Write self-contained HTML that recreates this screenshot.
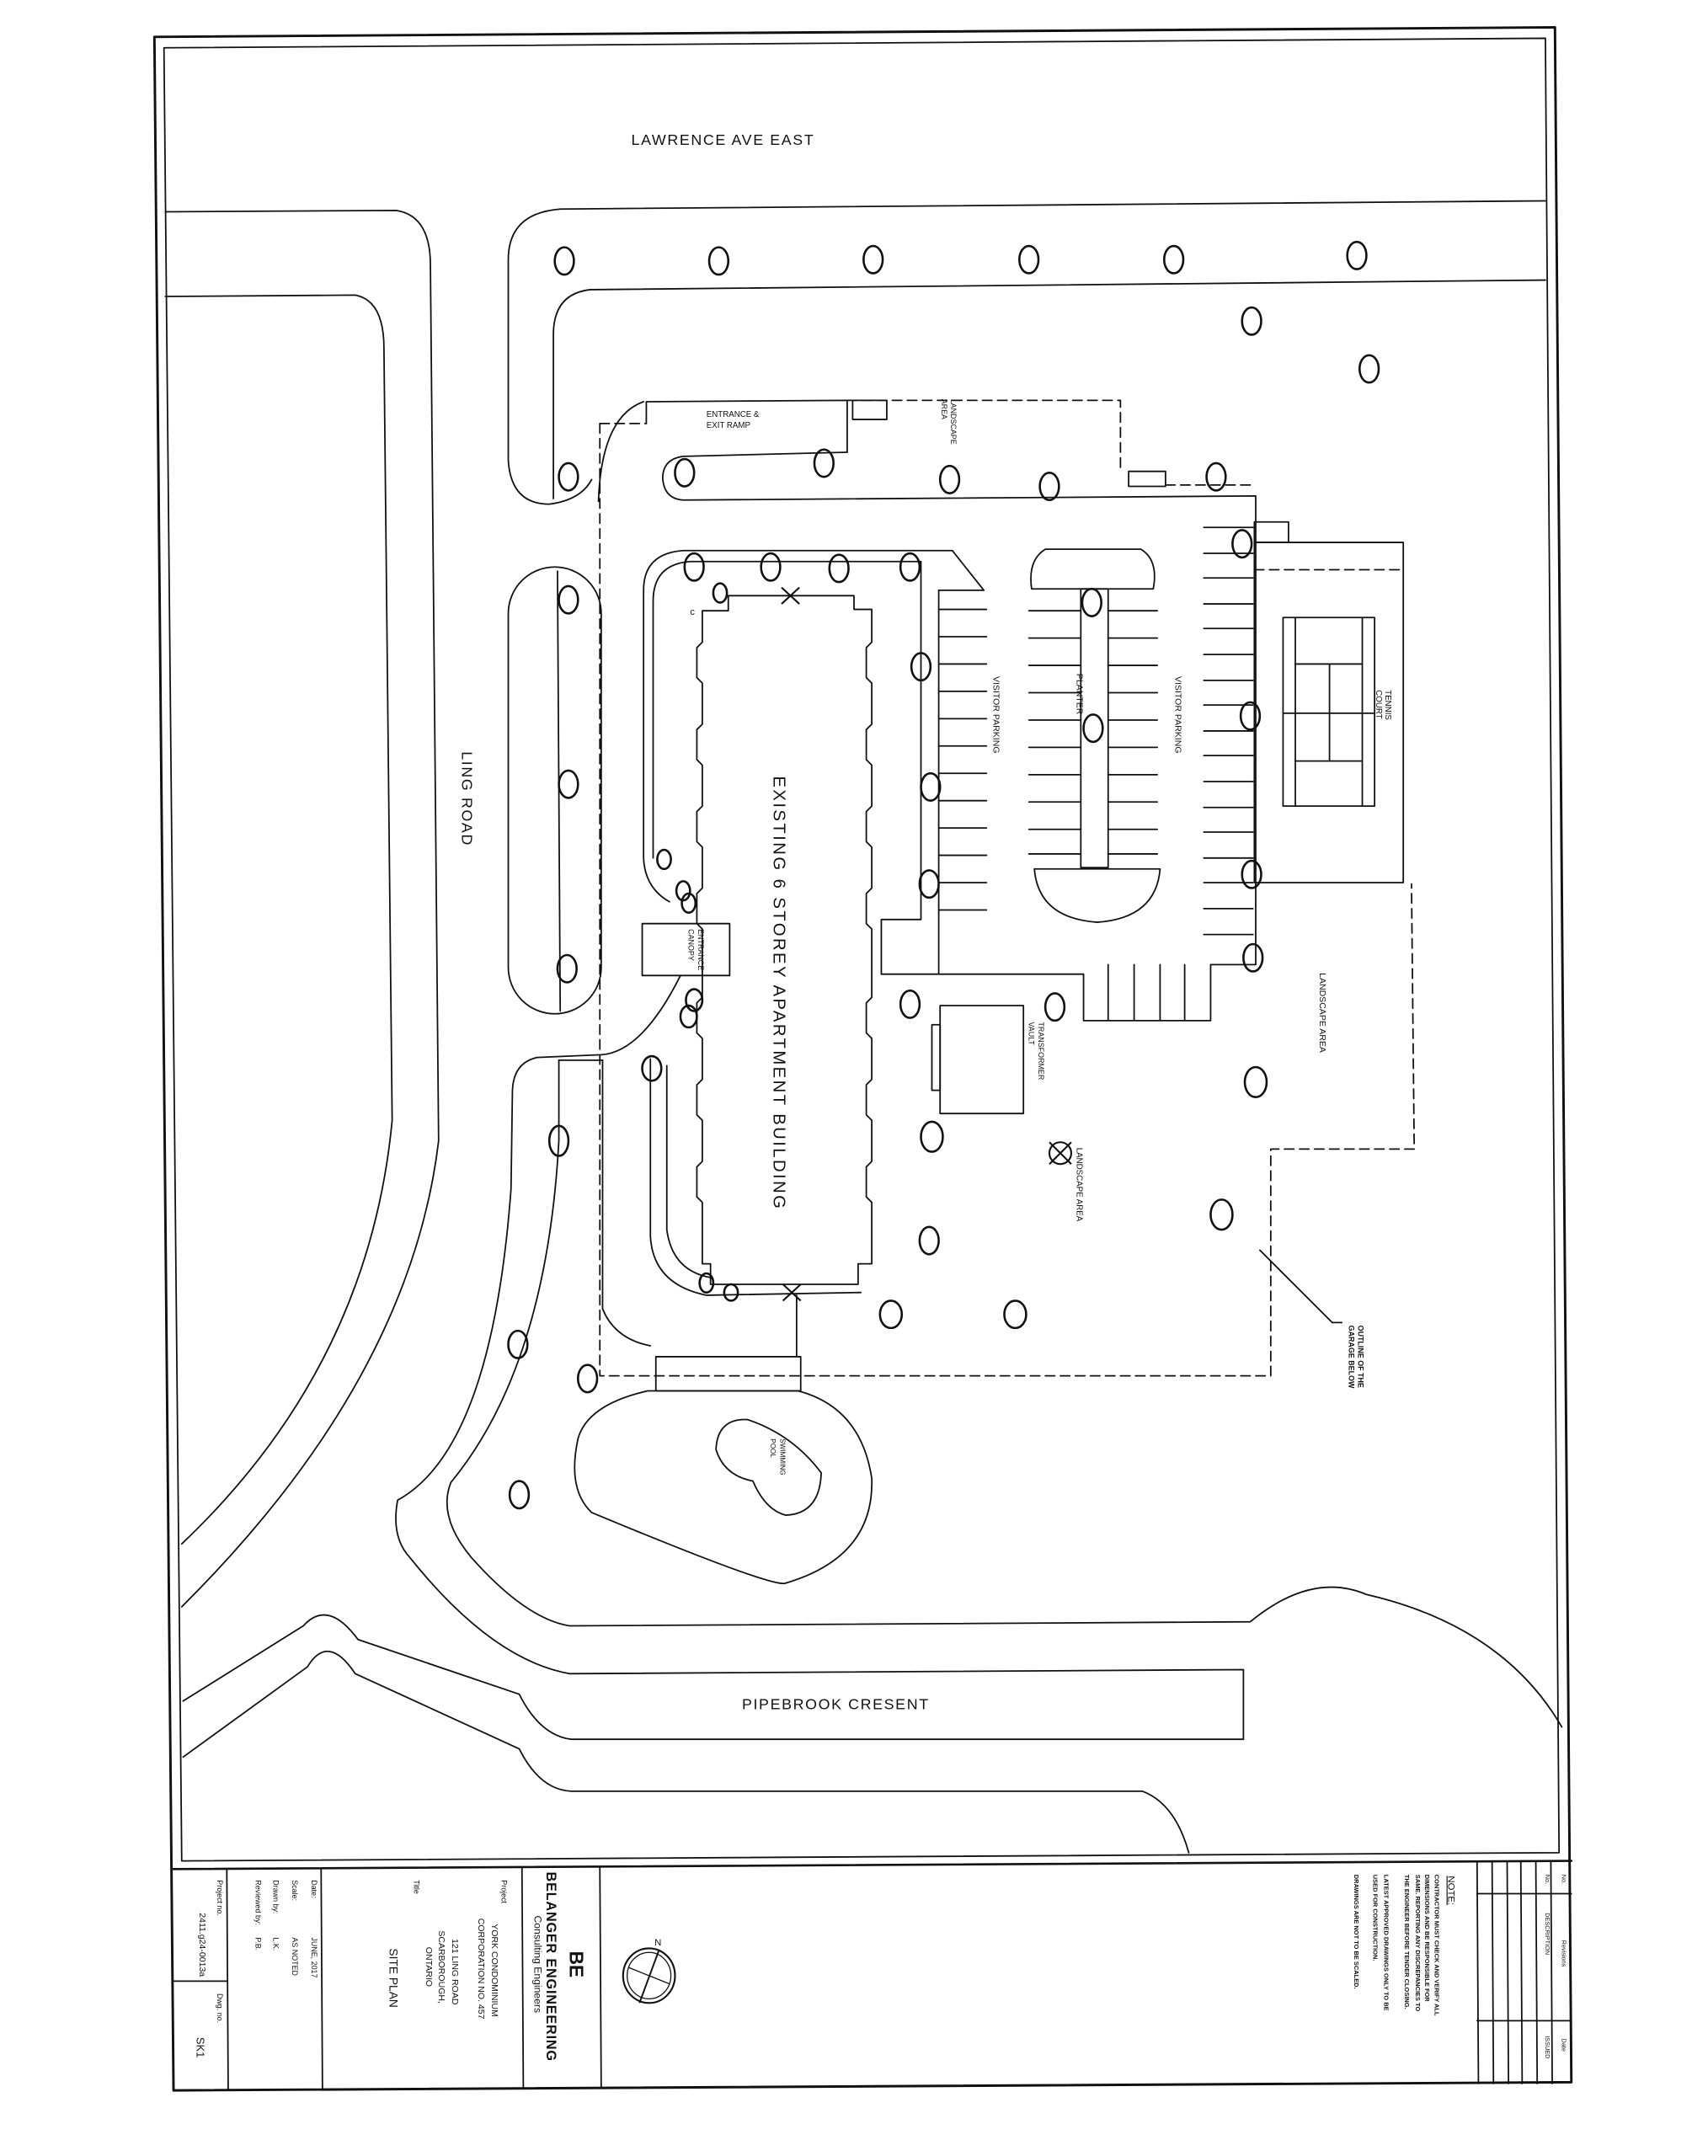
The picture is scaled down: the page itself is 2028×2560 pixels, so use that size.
<!DOCTYPE html>
<html><head><meta charset="utf-8"><style>
html,body{margin:0;padding:0;background:#fff;}
svg{display:block;}
text{font-family:"Liberation Sans",sans-serif;fill:#111;}
</style></head><body>
<svg width="2028" height="2560" viewBox="0 0 1250 1578" preserveAspectRatio="none" xmlns="http://www.w3.org/2000/svg">
<rect width="1250" height="1578" fill="#fff"/>
<g fill="none" stroke="#111" stroke-width="1.1" stroke-linejoin="round" stroke-linecap="round">
<!-- frames -->
<polygon points="113,27 1138,20 1150,1524 127,1530" stroke-width="1.8"/>
<polyline points="120,35 1131,28 1141,1356 133,1362 120,35"/>
<line x1="127" y1="1368" x2="1150" y2="1362" stroke-width="1.6"/>
<line x1="166" y1="1368" x2="167" y2="1529"/>
<line x1="235" y1="1368" x2="236" y2="1529"/>
<line x1="382" y1="1367" x2="383" y2="1528"/>
<line x1="439" y1="1367" x2="440" y2="1528"/>
<line x1="127" y1="1450" x2="166" y2="1450"/>
<line x1="1081" y1="1363" x2="1082" y2="1525"/>
<line x1="1092" y1="1363" x2="1093" y2="1525"/>
<line x1="1103" y1="1363" x2="1104" y2="1525"/>
<line x1="1113" y1="1363" x2="1114" y2="1525"/>
<line x1="1124" y1="1363" x2="1125" y2="1525"/>
<line x1="1135" y1="1363" x2="1136" y2="1525"/>
<line x1="1081" y1="1386" x2="1150" y2="1386"/>
<line x1="1081" y1="1479" x2="1150" y2="1479"/>

<!-- left road (west) -->
<path d="M121,155 L290,154 Q315,158 315,194 L321,835 Q300,1010 133,1176"/>
<path d="M121,217 L260,216 Q281,220 281,255 L287,820 Q270,1000 133,1130"/>
<!-- Lawrence south curb & inner -->
<path d="M1131,147 L410,153 Q372,156 372,190 L372,337 Q374,369 402,369 Q425,366 433,351"/>
<path d="M1131,205 L432,212 Q405,215 405,245 L405,365"/>
<!-- Ling median -->
<rect x="372" y="415" width="68" height="327" rx="34" ry="34"/>
<line x1="408" y1="418" x2="410" y2="740"/>
<!-- driveway south -->
<path d="M498,714 Q470,770 440,772 L393,774 Q375,778 375,800 L374,870 Q360,1060 291,1098 Q286,1125 300,1140 Q360,1215 417,1225 L910,1222 L910,1273 L418,1273 Q395,1270 380,1240 L262,1200 Q240,1170 222,1190 L134,1245"/>
<path d="M409,776 L409,835 Q400,1000 330,1085 Q320,1110 345,1140 Q385,1185 417,1190 L915,1187 Q960,1150 1000,1167 Q1100,1190 1143,1264"/>
<path d="M836,1311 L418,1311 Q395,1310 380,1280 L260,1225 Q240,1195 225,1220 L134,1286"/>
<path d="M836,1311 Q860,1320 870,1356"/>
<line x1="409" y1="776" x2="441" y2="776"/>
<line x1="441" y1="776" x2="441" y2="958"/>
<path d="M441,958 Q450,980 476,985"/>
<!-- pool -->
<path d="M474,1018 L584,1018 Q630,1030 638,1082 Q640,1140 574,1159 Q560,1160 433,1107 Q415,1090 423,1053 Q430,1028 474,1018 Z"/>
<path d="M547,1039 Q580,1050 601,1078 Q600,1108 575,1109 Q560,1105 551,1084 Q530,1080 524,1061 Q525,1038 547,1039 Z"/>
<rect x="480" y="993" width="106" height="25"/>
<line x1="583" y1="948" x2="583" y2="993"/>

<!-- garage dashed outline -->
<path d="M439,310 L439,1007 L930,1007 L930,841 L1035,841 L1033,647" stroke-dasharray="7,4"/>
<path d="M439,310 L473,310" stroke-dasharray="7,4"/>
<path d="M620,293 L820,293 L820,343" stroke-dasharray="7,4"/>
<path d="M853,355 L919,355" stroke-dasharray="7,4"/>
<path d="M438,367 Q440,305 471,294"/>
<path d="M473,310 L473,294 L620,293 L620,331"/>
<rect x="624" y="293" width="25" height="14"/>
<rect x="826" y="345" width="27" height="11"/>
<path d="M620,331 L500,334 Q485,336 485,350 Q486,365 500,366 L919,363 L919,706"/>
<!-- tennis -->
<rect x="918" y="397" width="109" height="249"/>
<rect x="918" y="382" width="25" height="15"/>
<line x1="918" y1="417" x2="1027" y2="417" stroke-dasharray="7,4"/>
<rect x="939" y="452" width="67" height="138"/>
<line x1="948" y1="452" x2="948" y2="590"/>
<line x1="997" y1="452" x2="997" y2="590"/>
<line x1="948" y1="486" x2="997" y2="486"/>
<line x1="948" y1="557" x2="997" y2="557"/>
<line x1="939" y1="522" x2="1006" y2="522"/>
<line x1="973" y1="486" x2="973" y2="557"/>
<!-- loop road -->
<path d="M697,403 L500,403 Q471,405 471,432 L471,628 Q472,650 490,660"/>
<path d="M674,411 L505,411 Q478,413 478,440 L478,628"/>
<line x1="697" y1="403" x2="720" y2="432"/>
<line x1="720" y1="432" x2="687" y2="432"/>
<path d="M674,411 L674,673 L645,673 L645,713"/>
<line x1="687" y1="432" x2="687" y2="713"/>
<path d="M476,775 L476,905 Q478,940 517,948 L630,946"/>
<path d="M488,780 L488,900 Q492,930 520,935"/>
<!-- building -->
<path d="M533,436 L625,436 L625,446 L638,446 L638,470 L634,474 L634,496 L638,500 L638,530 L634,534 L634,556 L638,560 L638,590 L634,594 L634,616 L638,620 L638,650 L634,654 L634,676 L638,680 L638,730 L634,734 L634,756 L638,760 L638,790 L634,794 L634,816 L638,820 L638,850 L634,854 L634,876 L638,880 L638,925 L628,925 L628,940 L520,940 L520,925 L514,925 L514,880 L510,876 L510,854 L514,850 L514,820 L510,816 L510,794 L514,790 L514,760 L510,756 L510,734 L514,730 L514,680 L510,676 L510,654 L514,650 L514,620 L510,616 L510,594 L514,590 L514,560 L510,556 L510,534 L514,530 L514,500 L510,496 L510,474 L514,470 L514,447 L520,447 L533,447 Z"/>
<rect x="470" y="676" width="64" height="38"/>
<!-- parking stalls -->
<g>
<line x1="687" y1="446" x2="722" y2="446"/><line x1="687" y1="466" x2="722" y2="466"/><line x1="687" y1="486" x2="722" y2="486"/><line x1="687" y1="506" x2="722" y2="506"/><line x1="687" y1="526" x2="722" y2="526"/><line x1="687" y1="546" x2="722" y2="546"/><line x1="687" y1="566" x2="722" y2="566"/><line x1="687" y1="586" x2="722" y2="586"/><line x1="687" y1="606" x2="722" y2="606"/><line x1="687" y1="626" x2="722" y2="626"/><line x1="687" y1="646" x2="722" y2="646"/><line x1="687" y1="666" x2="722" y2="666"/>
<line x1="753" y1="447" x2="791" y2="447"/><line x1="753" y1="467" x2="791" y2="467"/><line x1="753" y1="487" x2="791" y2="487"/><line x1="753" y1="507" x2="791" y2="507"/><line x1="753" y1="527" x2="791" y2="527"/><line x1="753" y1="547" x2="791" y2="547"/><line x1="753" y1="567" x2="791" y2="567"/><line x1="753" y1="587" x2="791" y2="587"/><line x1="753" y1="607" x2="791" y2="607"/><line x1="753" y1="625" x2="791" y2="625"/>
<line x1="811" y1="447" x2="847" y2="447"/><line x1="811" y1="467" x2="847" y2="467"/><line x1="811" y1="487" x2="847" y2="487"/><line x1="811" y1="507" x2="847" y2="507"/><line x1="811" y1="527" x2="847" y2="527"/><line x1="811" y1="547" x2="847" y2="547"/><line x1="811" y1="567" x2="847" y2="567"/><line x1="811" y1="587" x2="847" y2="587"/><line x1="811" y1="607" x2="847" y2="607"/><line x1="811" y1="625" x2="847" y2="625"/>
<line x1="881" y1="386" x2="917" y2="386"/><line x1="881" y1="405" x2="917" y2="405"/><line x1="881" y1="423" x2="917" y2="423"/><line x1="881" y1="442" x2="917" y2="442"/><line x1="881" y1="460" x2="917" y2="460"/><line x1="881" y1="479" x2="917" y2="479"/><line x1="881" y1="498" x2="917" y2="498"/><line x1="881" y1="516" x2="917" y2="516"/><line x1="881" y1="535" x2="917" y2="535"/><line x1="881" y1="553" x2="917" y2="553"/><line x1="881" y1="572" x2="917" y2="572"/><line x1="881" y1="591" x2="917" y2="591"/><line x1="881" y1="609" x2="917" y2="609"/><line x1="881" y1="628" x2="917" y2="628"/><line x1="881" y1="646" x2="917" y2="646"/><line x1="881" y1="665" x2="917" y2="665"/><line x1="881" y1="684" x2="917" y2="684"/>
<line x1="811" y1="706" x2="811" y2="747"/><line x1="830" y1="706" x2="830" y2="747"/><line x1="849" y1="706" x2="849" y2="747"/><line x1="867" y1="706" x2="867" y2="747"/>
</g>
<path d="M645,713 L793,713 L793,747 L886,747 L886,706 L919,706"/>
<!-- planter -->
<path d="M755,431 Q752,410 765,402 L835,402 Q848,410 844,431 Z"/>
<rect x="791" y="431" width="20" height="204"/>
<path d="M757,636 L849,636 Q846,672 803,675 Q760,672 757,636 Z"/>
<!-- transformer vault -->
<rect x="688" y="736" width="61" height="79"/>
<rect x="682" y="750" width="6" height="48"/>
<!-- garage leader -->
<polyline points="922,915 975,968 982,968"/>
</g>

<!-- trees -->
<g fill="none" stroke="#111" stroke-width="1.6">
<ellipse cx="413" cy="191" rx="7" ry="10"/><ellipse cx="526" cy="191" rx="7" ry="10"/><ellipse cx="639" cy="190" rx="7" ry="10"/><ellipse cx="753" cy="190" rx="7" ry="10"/><ellipse cx="859" cy="190" rx="7" ry="10"/><ellipse cx="993" cy="187" rx="7" ry="10"/>
<ellipse cx="916" cy="235" rx="7" ry="10"/><ellipse cx="1002" cy="270" rx="7" ry="10"/>
<ellipse cx="416" cy="349" rx="7" ry="10"/><ellipse cx="501" cy="346" rx="7" ry="10"/><ellipse cx="603" cy="339" rx="7" ry="10"/><ellipse cx="695" cy="351" rx="7" ry="10"/><ellipse cx="768" cy="356" rx="7" ry="10"/><ellipse cx="890" cy="349" rx="7" ry="10"/>
<ellipse cx="416" cy="439" rx="7" ry="10"/><ellipse cx="416" cy="574" rx="7" ry="10"/><ellipse cx="415" cy="709" rx="7" ry="10"/>
<ellipse cx="508" cy="415" rx="7" ry="10"/><ellipse cx="564" cy="415" rx="7" ry="10"/><ellipse cx="614" cy="416" rx="7" ry="10"/><ellipse cx="666" cy="415" rx="7" ry="10"/><ellipse cx="527" cy="434" rx="5" ry="7"/>
<ellipse cx="674" cy="488" rx="7" ry="10"/><ellipse cx="681" cy="576" rx="7" ry="10"/><ellipse cx="680" cy="647" rx="7" ry="10"/>
<ellipse cx="799" cy="441" rx="7" ry="10"/><ellipse cx="800" cy="533" rx="7" ry="10"/>
<ellipse cx="909" cy="398" rx="7" ry="10"/><ellipse cx="915" cy="524" rx="7" ry="10"/><ellipse cx="916" cy="640" rx="7" ry="10"/><ellipse cx="917" cy="701" rx="7" ry="10"/>
<ellipse cx="486" cy="629" rx="5" ry="7"/><ellipse cx="500" cy="652" rx="5" ry="7"/><ellipse cx="504" cy="661" rx="5" ry="7"/>
<ellipse cx="508" cy="732" rx="6" ry="8"/><ellipse cx="504" cy="744" rx="6" ry="8"/><ellipse cx="477" cy="782" rx="7" ry="9"/>
<ellipse cx="666" cy="735" rx="7" ry="10"/><ellipse cx="772" cy="737" rx="7" ry="10"/><ellipse cx="919" cy="792" rx="8" ry="11"/>
<ellipse cx="682" cy="832" rx="8" ry="11"/><ellipse cx="894" cy="889" rx="8" ry="11"/><ellipse cx="680" cy="908" rx="7" ry="10"/>
<ellipse cx="517" cy="939" rx="5" ry="7"/><ellipse cx="535" cy="946" rx="5" ry="6"/>
<ellipse cx="652" cy="962" rx="8" ry="10"/><ellipse cx="743" cy="962" rx="8" ry="10"/>
<ellipse cx="409" cy="835" rx="7" ry="11"/><ellipse cx="379" cy="984" rx="7" ry="10"/><ellipse cx="430" cy="1009" rx="7" ry="10"/><ellipse cx="380" cy="1094" rx="7" ry="10"/>
</g>
<g stroke="#111" stroke-width="1.3">
<line x1="572" y1="430" x2="585" y2="442"/><line x1="585" y1="430" x2="572" y2="442"/>
<line x1="573" y1="940" x2="586" y2="952"/><line x1="586" y1="940" x2="573" y2="952"/>
<line x1="768" y1="836" x2="784" y2="852"/><line x1="784" y1="836" x2="768" y2="852"/>
</g>
<circle cx="776" cy="844" r="8" fill="none" stroke="#111" stroke-width="1.3"/>

<!-- labels -->
<text x="462" y="106" font-size="11" letter-spacing="1">LAWRENCE AVE EAST</text>
<text transform="translate(338,550) rotate(90)" font-size="11" letter-spacing="1">LING ROAD</text>
<text transform="translate(566,568) rotate(90)" font-size="12.5" letter-spacing="1.5">EXISTING 6 STOREY APARTMENT BUILDING</text>
<text transform="translate(727,495) rotate(90)" font-size="6.5">VISITOR PARKING</text>
<text transform="translate(788,493) rotate(90)" font-size="6.5">PLANTER</text>
<text transform="translate(860,495) rotate(90)" font-size="6.5">VISITOR PARKING</text>
<text transform="translate(1014,505) rotate(90)" font-size="6">TENNIS</text>
<text transform="translate(1007,505) rotate(90)" font-size="6">COURT</text>
<text transform="translate(966,712) rotate(90)" font-size="6.5">LANDSCAPE AREA</text>
<text transform="translate(788,840) rotate(90)" font-size="6">LANDSCAPE AREA</text>
<text transform="translate(696,292) rotate(90)" font-size="5.5">LANDSCAPE</text>
<text transform="translate(689,292) rotate(90)" font-size="5.5">AREA</text>
<text x="517" y="305" font-size="6">ENTRANCE &amp;</text>
<text x="517" y="313" font-size="6">EXIT RAMP</text>
<text transform="translate(760,748) rotate(90)" font-size="5.5">TRANSFORMER</text>
<text transform="translate(753,748) rotate(90)" font-size="5.5">VAULT</text>
<text transform="translate(511,680) rotate(90)" font-size="5.5">ENTRANCE</text>
<text transform="translate(504,680) rotate(90)" font-size="5.5">CANOPY</text>
<text transform="translate(571,1053) rotate(90)" font-size="5">SWIMMING</text>
<text transform="translate(564,1053) rotate(90)" font-size="5">POOL</text>
<text transform="translate(994,970) rotate(90)" font-size="5.5" font-weight="bold">OUTLINE OF THE</text>
<text transform="translate(987,970) rotate(90)" font-size="5.5" font-weight="bold">GARAGE BELOW</text>
<text x="543" y="1251" font-size="11" letter-spacing="1">PIPEBROOK CRESENT</text>
<text x="505" y="450" font-size="7">c</text>

<!-- title block text -->
<g font-size="6.5">
<text transform="translate(159,1376) rotate(90)" font-size="5.5">Project no.</text>
<text transform="translate(146,1400) rotate(90)">2411.g24-0013a</text>
<text transform="translate(159,1459) rotate(90)" font-size="5.5">Dwg. no.</text>
<text transform="translate(144,1491) rotate(90)" font-size="8">SK1</text>
<text transform="translate(228,1376) rotate(90)" font-size="5.5">Date:</text>
<text transform="translate(228,1418) rotate(90)" font-size="5.5">JUNE, 2017</text>
<text transform="translate(214,1376) rotate(90)" font-size="5.5">Scale:</text>
<text transform="translate(214,1418) rotate(90)" font-size="5.5">AS NOTED</text>
<text transform="translate(200,1376) rotate(90)" font-size="5.5">Drawn by:</text>
<text transform="translate(200,1418) rotate(90)" font-size="5.5">L.K.</text>
<text transform="translate(187,1376) rotate(90)" font-size="5.5">Reviewed by:</text>
<text transform="translate(187,1418) rotate(90)" font-size="5.5">P.B.</text>
<text transform="translate(303,1376) rotate(90)" font-size="5.5">Title</text>
<text transform="translate(285,1426) rotate(90)" font-size="8.5">SITE PLAN</text>
<text transform="translate(367,1376) rotate(90)" font-size="5.5">Project</text>
<text transform="translate(360,1408) rotate(90)">YORK CONDOMINIUM</text>
<text transform="translate(350,1404) rotate(90)">CORPORATION NO. 457</text>
<text transform="translate(331,1419) rotate(90)">121 LING ROAD</text>
<text transform="translate(321,1413) rotate(90)">SCARBOROUGH,</text>
<text transform="translate(312,1425) rotate(90)">ONTARIO</text>
<text transform="translate(400,1370) rotate(90)" font-size="10" font-weight="bold" letter-spacing="0.5">BELANGER ENGINEERING</text>
<text transform="translate(391,1402) rotate(90)" font-size="7.5">Consulting Engineers</text>
<text transform="translate(417,1428) rotate(90)" font-size="14" font-weight="bold">BE</text>
<text transform="translate(1060,1373) rotate(90)" font-size="7" text-decoration="underline">NOTE:</text>
<text transform="translate(1050,1372) rotate(90)" font-size="4.6" font-weight="bold">CONTRACTOR MUST CHECK AND VERIFY ALL</text>
<text transform="translate(1043,1372) rotate(90)" font-size="4.6" font-weight="bold">DIMENSIONS AND BE RESPONSIBLE FOR</text>
<text transform="translate(1036,1372) rotate(90)" font-size="4.6" font-weight="bold">SAME. REPORTING ANY DISCREPANCIES TO</text>
<text transform="translate(1028,1372) rotate(90)" font-size="4.6" font-weight="bold">THE ENGINEER BEFORE TENDER CLOSING.</text>
<text transform="translate(1013,1372) rotate(90)" font-size="4.6" font-weight="bold">LATEST APPROVED DRAWINGS ONLY TO BE</text>
<text transform="translate(1005,1372) rotate(90)" font-size="4.6" font-weight="bold">USED FOR CONSTRUCTION.</text>
<text transform="translate(991,1372) rotate(90)" font-size="4.6" font-weight="bold">DRAWINGS ARE NOT TO BE SCALED.</text>
<text transform="translate(1143,1372) rotate(90)" font-size="4.5">No.</text>
<text transform="translate(1131,1372) rotate(90)" font-size="4.5">No.</text>
<text transform="translate(1143,1420) rotate(90)" font-size="4.5">Revisions</text>
<text transform="translate(1131,1400) rotate(90)" font-size="4.5">DESCRIPTION</text>
<text transform="translate(1143,1492) rotate(90)" font-size="4.5">Date</text>
<text transform="translate(1131,1490) rotate(90)" font-size="4.5">ISSUED</text>
</g>
<!-- compass -->
<g fill="none" stroke="#111">
<ellipse cx="475" cy="1446" rx="19" ry="20" stroke-width="1.3"/>
<ellipse cx="475" cy="1446" rx="16" ry="17" stroke-width="0.8"/>
<line x1="482" y1="1428" x2="468" y2="1466" stroke-width="1.2"/>
<line x1="460" y1="1440" x2="490" y2="1452" stroke-width="0.8"/>
</g>
<text x="479" y="1424" font-size="7">N</text>
</svg>
</body></html>
